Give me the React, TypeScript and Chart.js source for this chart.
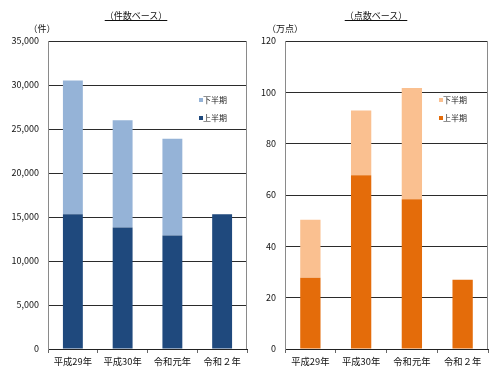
import React, { useEffect, useRef } from "react";
import { Chart, registerables } from "chart.js";

Chart.register(...registerables);

// ---- data ----
const categories = ["平成29年", "平成30年", "令和元年", "令和２年"];
const seriesLabels = ["上半期", "下半期"];
const countFirstHalf = [15300, 13800, 12900, 15300];
const countSecondHalf: (number | null)[] = [15200, 12200, 11000, null];
const pointFirstHalf = [27.8, 67.7, 58.3, 27.0];
const pointSecondHalf: (number | null)[] = [22.6, 25.2, 43.4, null];
const countAxisMax = 35000;
const countAxisStep = 5000;
const pointAxisMax = 120;
const pointAxisStep = 20;

const FONT = '"Noto Sans CJK JP", "Noto Sans", sans-serif';

const insideLegend = {
  id: "insideLegend",
  afterDraw(chart: any, _args: any, opts: any) {
    const ctx = chart.ctx;
    const ds = chart.data.datasets;
    ctx.save();
    ctx.font = `${opts.fontSize}px ${FONT}`;
    ctx.textBaseline = "middle";
    ctx.textAlign = "left";
    const order = ds.map((_d: any, i: number) => i).reverse();
    order.forEach((i: number, row: number) => {
      const x = chart.chartArea.right - opts.offsetRight;
      const y = chart.chartArea.top + opts.offsetTop + row * opts.rowGap;
      ctx.fillStyle = ds[i].backgroundColor;
      ctx.fillRect(x, y - 2, 4, 4);
      ctx.fillStyle = "#222";
      ctx.fillText(ds[i].label, x + 4, y);
    });
    ctx.restore();
  },
};

const frame = {
  id: "frame",
  afterDatasetsDraw(chart: any) {
    const { ctx, chartArea } = chart;
    ctx.save();
    ctx.strokeStyle = "#8a8a8a";
    ctx.lineWidth = 1;
    ctx.beginPath();
    const r = Math.round(chartArea.right) - 0.5;
    ctx.moveTo(r, chartArea.top);
    ctx.lineTo(r, chartArea.bottom);
    ctx.stroke();
    ctx.restore();
  },
};

function makeConfig(
  first: (number | null)[],
  second: (number | null)[],
  colors: [string, string],
  max: number,
  step: number,
  yWidth: number,
  padRight: number,
  legendOffsetRight: number,
  formatTick: (v: number) => string
): any {
  return {
    type: "bar",
    data: {
      labels: categories,
      datasets: [
        {
          label: seriesLabels[0],
          data: first,
          backgroundColor: colors[0],
          borderWidth: 0,
          barPercentage: 0.4,
          categoryPercentage: 1,
        },
        {
          label: seriesLabels[1],
          data: second,
          backgroundColor: colors[1],
          borderWidth: 0,
          barPercentage: 0.4,
          categoryPercentage: 1,
        },
      ],
    },
    plugins: [insideLegend, frame],
    options: {
      responsive: false,
      animation: false,
      layout: { padding: { top: 41, right: padRight, left: 0, bottom: 0 } },
      plugins: {
        legend: { display: false },
        tooltip: { enabled: false },
        title: { display: false },
        insideLegend: { offsetRight: legendOffsetRight, offsetTop: 59, rowGap: 18, fontSize: 8 },
      },
      scales: {
        x: {
          stacked: true,
          grid: {
            display: true,
            drawOnChartArea: false,
            drawTicks: true,
            tickLength: 4,
            color: "#666",
            offset: true,
          },
          border: { display: true, color: "#222" },
          ticks: {
            color: "#111",
            padding: 3,
            maxRotation: 0,
            autoSkip: false,
            font: { family: FONT, size: 9.3 },
          },
          afterFit: (scale: any) => {
            scale.height = 22;
          },
        },
        y: {
          stacked: true,
          min: 0,
          max: max,
          grid: { color: "#2b2b2b", lineWidth: 1, drawTicks: false },
          border: { display: true, color: "#8a8a8a" },
          ticks: {
            stepSize: step,
            padding: 9,
            color: "#111",
            font: { family: FONT, size: 9 },
            callback: (v: any) => formatTick(Number(v)),
          },
          afterFit: (scale: any) => {
            scale.width = yWidth;
          },
        },
      },
    },
  };
}

function ChartCanvas({ config }: { config: any }) {
  const ref = useRef<HTMLCanvasElement | null>(null);
  useEffect(() => {
    if (!ref.current) return;
    const chart = new Chart(ref.current, config);
    return () => chart.destroy();
  }, [config]);
  return <canvas ref={ref} width={250} height={371} style={{ width: 250, height: 371, display: "block" }} />;
}

const leftConfig = makeConfig(
  countFirstHalf,
  countSecondHalf,
  ["#1F497D", "#95B3D7"],
  countAxisMax,
  countAxisStep,
  48,
  3,
  48,
  (v) => v.toLocaleString("en-US")
);

const rightConfig = makeConfig(
  pointFirstHalf,
  pointSecondHalf,
  ["#E46C0A", "#FAC090"],
  pointAxisMax,
  pointAxisStep,
  35,
  12,
  49,
  (v) => String(v)
);

const textStyle: React.CSSProperties = {
  position: "absolute",
  fontFamily: FONT,
  fontSize: 9,
  lineHeight: "12px",
  color: "#111",
  whiteSpace: "nowrap",
  transform: "translateX(-50%)",
};

export default function App() {
  return (
    <div
      style={{
        position: "fixed",
        left: 0,
        top: 0,
        width: 500,
        height: 371,
        background: "#fff",
        overflow: "hidden",
      }}
    >
      <div style={{ position: "absolute", left: 0, top: 0 }}>
        <ChartCanvas config={leftConfig} />
      </div>
      <div style={{ position: "absolute", left: 250, top: 0 }}>
        <ChartCanvas config={rightConfig} />
      </div>
      <span style={{ ...textStyle, left: 136, top: 10, textDecoration: "underline" }}>（件数ベース）</span>
      <span style={{ ...textStyle, left: 376, top: 10, textDecoration: "underline" }}>（点数ベース）</span>
      <span style={{ ...textStyle, left: 42, top: 23 }}>（件）</span>
      <span style={{ ...textStyle, left: 285, top: 23 }}>（万点）</span>
    </div>
  );
}
